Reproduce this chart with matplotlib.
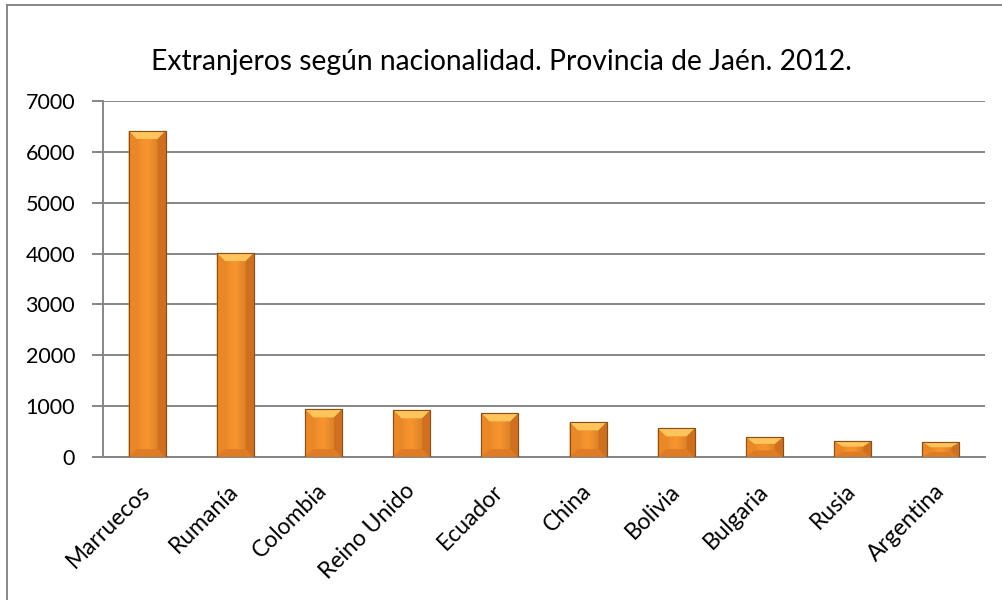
import matplotlib.pyplot as plt
import numpy as np
from matplotlib.patches import Polygon
from matplotlib.lines import Line2D

paises = ["Marruecos", "Rumanía", "Colombia", "Reino Unido", "Ecuador",
          "China", "Bolivia", "Bulgaria", "Rusia", "Argentina"]
extranjeros = [6410, 4010, 937, 918, 858, 682, 564, 387, 308, 289]
yticks = [0, 1000, 2000, 3000, 4000, 5000, 6000, 7000]

titulo = "Extranjeros según nacionalidad. Provincia de Jaén. 2012."

plt.rcParams['font.family'] = ['Lato', 'DejaVu Sans']

fig = plt.figure(figsize=(10.03, 6), dpi=100)
ax = fig.add_axes([0.1027, 0.2383, 0.8794, 0.5934])

x = np.arange(len(paises))
ancho = 0.42
bars = ax.bar(x, extranjeros, width=ancho, color="#F7922C",
              edgecolor="#8A4E18", linewidth=0.8, zorder=3)

# gradiente horizontal dentro de cada barra
grad = np.linspace(0, 1, 64)
perfil = 1 - 0.35 * np.abs(grad - 0.45) ** 1.5 * 2
c0 = np.array([0.97, 0.58, 0.18])
img = np.clip((c0[None, :] * perfil[:, None])[None, :, :], 0, 1)

px_y = 7000 / 356.0     # unidades de dato por pixel (vertical)
px_x = 1 / 88.2         # unidades de dato por pixel (horizontal)
bh = 8 * px_y
bw = 8 * px_x
for b, v in zip(bars, extranjeros):
    x0 = b.get_x()
    x1 = x0 + b.get_width()
    im = ax.imshow(img, extent=[x0, x1, 0, v], aspect='auto', zorder=3.1,
                   interpolation='bicubic')
    im.set_clip_path(b)
    h = min(bh, v / 3)
    # bisel superior
    ax.add_patch(Polygon([[x0, v], [x1, v], [x1 - bw, v - h], [x0 + bw, v - h]],
                         closed=True, facecolor="#FFC45A", edgecolor='none',
                         zorder=3.2))
    # bisel inferior
    ax.add_patch(Polygon([[x0, 0], [x1, 0], [x1 - bw, h], [x0 + bw, h]],
                         closed=True, facecolor="#DE7B24", edgecolor='none',
                         zorder=3.2))
    # biseles laterales
    ax.add_patch(Polygon([[x0, 0], [x0 + bw, h], [x0 + bw, v - h], [x0, v]],
                         closed=True, facecolor="#EC8726", edgecolor='none',
                         zorder=3.2))
    ax.add_patch(Polygon([[x1, 0], [x1 - bw, h], [x1 - bw, v - h], [x1, v]],
                         closed=True, facecolor="#D0701E", edgecolor='none',
                         zorder=3.2))
    ax.add_patch(Polygon([[x0, 0], [x1, 0], [x1, v], [x0, v]], closed=True,
                         facecolor='none', edgecolor="#8A4E18", linewidth=0.8,
                         zorder=3.3))

ax.set_xlim(-0.5, len(paises) - 0.5)
ax.set_ylim(0, 7000)
ax.set_yticks(yticks)
ax.set_yticklabels([str(t) for t in yticks], fontsize=15.5)
ax.set_xticks(x)
ax.set_xticklabels(paises, rotation=45, ha='right', va='center',
                   rotation_mode='anchor', fontsize=16.5)
ax.tick_params(axis='x', length=0, pad=22)
ax.tick_params(axis='y', length=8, width=1.4, color='#868686', pad=12)

ax.grid(axis='y', color='#868686', linewidth=1.4, zorder=0)
for s in ['top', 'right']:
    ax.spines[s].set_visible(False)
for s in ['left', 'bottom']:
    ax.spines[s].set_color('#868686')
    ax.spines[s].set_linewidth(1.4)
ax.set_axisbelow(True)

fig.text(0.5, 0.897, titulo, ha='center', va='center', fontsize=20.3)

# marco del gráfico
fig.add_artist(Line2D([7 / 1003, 7 / 1003], [0, 1 - 5 / 600], color='#868686',
                      linewidth=1.4, transform=fig.transFigure))
fig.add_artist(Line2D([7 / 1003, 1], [1 - 5 / 600, 1 - 5 / 600], color='#868686',
                      linewidth=1.4, transform=fig.transFigure))

fig.savefig("out.png", dpi=100)
